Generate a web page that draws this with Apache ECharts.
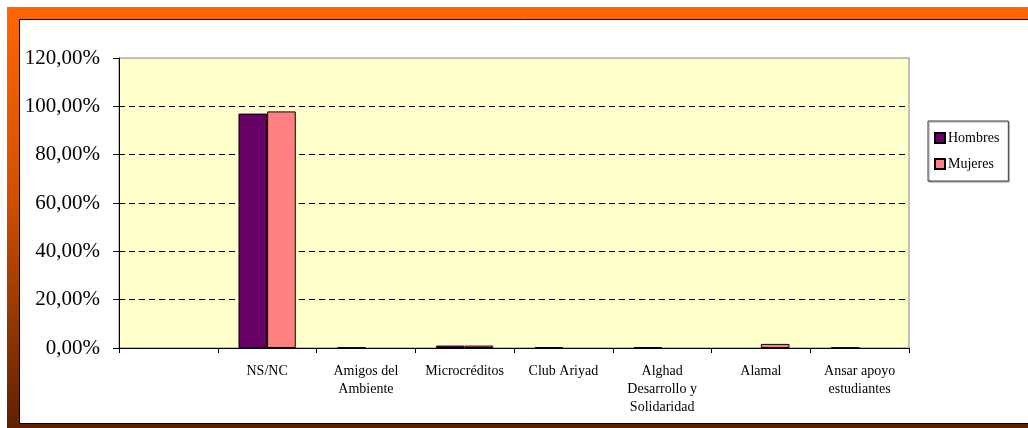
<!DOCTYPE html>
<html>
<head>
<meta charset="utf-8">
<script src="https://cdn.jsdelivr.net/npm/echarts@6/dist/echarts.min.js"></script>
<style>
html,body{margin:0;padding:0;background:#fff;}
#c{width:1028px;height:428px;}
</style>
</head>
<body>
<div id="c"></div>
<script>
const categories = ['', 'NS/NC', 'Amigos del\nAmbiente', 'Microcréditos', 'Club Ariyad', 'Alghad\nDesarrollo y\nSolidaridad', 'Alamal', 'Ansar apoyo\nestudiantes'];
const hombres = [0, 97.0, 0.2, 1.0, 0.3, 0.3, 0, 0.2];
const mujeres = [0, 97.9, 0, 1.0, 0, 0, 1.7, 0];
const seriesNames = ['Hombres', 'Mujeres'];
const yTicks = {min: 0, max: 120, interval: 20};

const serif = "'Liberation Serif','Times New Roman',serif";
const noZero = arr => arr.map(v => (v === 0 ? null : v));
const chart = echarts.init(document.getElementById('c'), null, {renderer: 'canvas'});
chart.setOption({
  animation: false,
  backgroundColor: '#fff',
  graphic: [
    {type: 'rect', z: -10, silent: true,
     shape: {x: 7, y: 7, width: 1100, height: 429},
     style: {fill: new echarts.graphic.LinearGradient(0, 0, 0, 1, [
       {offset: 0, color: '#FF6600'},
       {offset: 0.45, color: '#D05000'},
       {offset: 1, color: '#5A2000'}
     ])}},
    {type: 'rect', z: -9, silent: true,
     shape: {x: 19.5, y: 19.5, width: 1100, height: 404},
     style: {fill: '#fff', stroke: '#000', lineWidth: 1}}
  ],
  grid: {left: 119, top: 58, width: 790, height: 290, show: true,
         backgroundColor: '#FFFFCC', borderColor: '#808080', borderWidth: 1},
  legend: {
    orient: 'vertical', left: 928, top: 121,
    data: seriesNames.map(n => ({name: n, icon: 'rect'})),
    itemWidth: 10, itemHeight: 10, itemGap: 12,
    padding: [10, 9, 10, 6],
    borderColor: '#404040', borderWidth: 1,
    shadowColor: 'rgba(0,0,0,0.4)', shadowOffsetX: 1, shadowOffsetY: 1, shadowBlur: 1,
    backgroundColor: '#fff',
    textStyle: {fontFamily: serif, fontSize: 14, color: '#000', padding: [0,0,0,-2]}
  },
  xAxis: {
    type: 'category', data: categories, boundaryGap: true,
    axisLine: {lineStyle: {color: '#000', width: 1}},
    axisTick: {show: true, length: 5, alignWithLabel: false, lineStyle: {color: '#000'}},
    axisLabel: {interval: 0, fontFamily: serif, fontSize: 14, color: '#000', lineHeight: 18, margin: 14}
  },
  yAxis: {
    type: 'value', min: yTicks.min, max: yTicks.max, interval: yTicks.interval,
    axisLine: {show: true, lineStyle: {color: '#000', width: 1}},
    axisTick: {show: true, length: 6, lineStyle: {color: '#000'}},
    axisLabel: {fontFamily: serif, fontSize: 21, color: '#000', margin: 19,
      formatter: v => v.toFixed(2).replace('.', ',') + '%'},
    splitLine: {show: true, showMinLine: false, showMaxLine: false,
      lineStyle: {color: '#000', type: [6, 4], width: 1}}
  },
  series: [
    {name: seriesNames[0], type: 'bar', data: noZero(hombres), barGap: '0%', barCategoryGap: '42%',
     itemStyle: {color: '#660066', borderColor: '#000', borderWidth: 1}},
    {name: seriesNames[1], type: 'bar', data: noZero(mujeres), barGap: '0%', barCategoryGap: '42%',
     itemStyle: {color: '#FF8080', borderColor: '#000', borderWidth: 1}}
  ]
});
</script>
</body>
</html>
